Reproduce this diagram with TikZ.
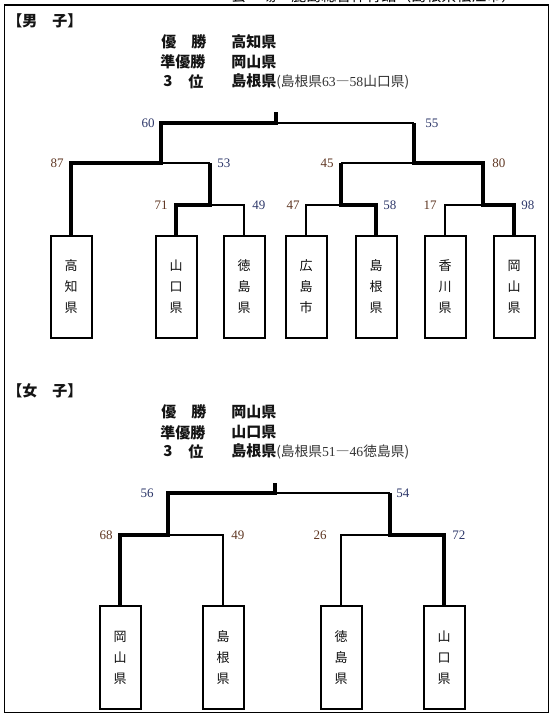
\documentclass[tikz,border=0pt]{standalone}
\usepackage{fontspec}
\setmainfont{Liberation Serif}
\newfontfamily\jp{Noto Sans CJK JP}
\newfontfamily\num{Liberation Serif}
\usetikzlibrary{calc}
\definecolor{numblue}{RGB}{45,55,105}
\definecolor{numbrown}{RGB}{95,55,35}
\newcommand{\paren}[1]{{\mdseries\fontsize{10.3pt}{13pt}\selectfont\color{black!80}#1}}
\tikzset{
  thinln/.style={line width=0.8pt},
  thickln/.style={line width=2.8pt, line join=miter},
  team/.style={draw, line width=1.5pt, minimum width=30.75pt, minimum height=76.5pt,
    inner sep=0pt, align=center, font=\jp\fontsize{9.75pt}{15.75pt}\selectfont, text=black!95},
  score/.style={font=\num\fontsize{9.75pt}{11pt}\selectfont, inner sep=0pt},
  sl/.style={score, anchor=east},
  sr/.style={score, anchor=west},
  head/.style={font=\jp\bfseries\fontsize{11.25pt}{13pt}\selectfont, inner sep=0pt, anchor=west, text=black!92},
  frame/.style={line width=1.1pt}
}
\begin{document}
\begin{tikzpicture}[x=0.75pt, y=-0.75pt]
\useasboundingbox (0,0) rectangle (559,716);
\draw[frame] (4.3,5) rectangle (548.5,712.5);
% venue line, cut off at the top edge as in the reference
\node[font=\jp\fontsize{11.25pt}{13pt}\selectfont, anchor=base west, inner sep=0pt] (venue) at (231,1.5) {会　場　鹿島総合体育館（島根県松江市）};

% ===== Men =====
\node[head] (mT) at (7,20.7) {【男　子】};
\node[head] (m1a) at (161,41.7) {優　勝};
\node[head] (m1b) at (231,41.7) {高知県};
\node[head] (m2a) at (160,62.3) {準優勝};
\node[head] (m2b) at (231,62.3) {岡山県};
\node[head, anchor=center] (m3n) at (168,81.5) {3};
\node[head] (m3a) at (188,81.5) {位};
\node[head] (m3b) at (231,81.5) {島根県\paren{(島根県{\num 63}―{\num 58}山口県)}};

\node[team] (b1) at (71,287) {高\\知\\県};
\node[team] (b2) at (176,287) {山\\口\\県};
\node[team] (b3) at (244,287) {徳\\島\\県};
\node[team] (b4) at (306,287) {広\\島\\市};
\node[team] (b5) at (376,287) {島\\根\\県};
\node[team] (b6) at (445,287) {香\\川\\県};
\node[team] (b7) at (514,287) {岡\\山\\県};

\coordinate (mtop) at (276,112);
\coordinate (mF) at (276,123);
\coordinate (mL) at (161,123);
\coordinate (mR) at (414,123);
\coordinate (mLL) at (71,163);
\coordinate (mLm) at (161,163);
\coordinate (mLR) at (210,163);
\coordinate (mRL) at (341,163);
\coordinate (mRm) at (414,163);
\coordinate (mRR) at (483,163);
\coordinate (mLRa) at (176,205);
\coordinate (mLRm) at (210,205);
\coordinate (mLRb) at (244,205);
\coordinate (mRLa) at (306,205);
\coordinate (mRLm) at (341,205);
\coordinate (mRLb) at (376,205);
\coordinate (mRRa) at (445,205);
\coordinate (mRRm) at (483,205);
\coordinate (mRRb) at (514,205);

\draw[thinln] (mF) -- (mR);
\draw[thinln] (mLm) -- (mLR);
\draw[thinln] (mLRm) -- (mLRb) -- (b3.north);
\draw[thinln] (mRL) -- (mRm);
\draw[thinln] (mRLm) -- (mRLa) -- (b4.north);
\draw[thinln] (mRRm) -- (mRRa) -- (b6.north);
\draw[thickln] (b1.north) -- (mLL) -- (mLm) -- (mL) -- (mF) -- (mtop);
\draw[thickln] (b2.north) -- (mLRa) -- (mLRm) -- (mLR);
\draw[thickln] (b5.north) -- (mRLb) -- (mRLm) -- (mRL);
\draw[thickln] (b7.north) -- (mRRb) -- (mRRm) -- (mRR) -- (mRm) -- (mR);

\node[sl, text=numblue] (s60) at (155,123) {60};
\node[sr, text=numblue] (s55) at (425,123) {55};
\node[sl, text=numbrown] (s87) at (64,163) {87};
\node[sr, text=numblue] (s53) at (217,163) {53};
\node[sl, text=numbrown] (s45) at (334,163) {45};
\node[sr, text=numbrown] (s80) at (492,163) {80};
\node[sl, text=numbrown] (s71) at (168,205) {71};
\node[sr, text=numblue] (s49) at (252,205) {49};
\node[sl, text=numbrown] (s47) at (300,205) {47};
\node[sr, text=numblue] (s58) at (383,205) {58};
\node[sl, text=numbrown] (s17) at (437,205) {17};
\node[sr, text=numblue] (s98) at (521,205) {98};

% ===== Women =====
\node[head] (wT) at (7,390.7) {【女　子】};
\node[head] (w1a) at (161,411.7) {優　勝};
\node[head] (w1b) at (231,411.7) {岡山県};
\node[head] (w2a) at (160,432.3) {準優勝};
\node[head] (w2b) at (231,432.3) {山口県};
\node[head, anchor=center] (w3n) at (168,451.5) {3};
\node[head] (w3a) at (188,451.5) {位};
\node[head] (w3b) at (231,451.5) {島根県\paren{(島根県{\num 51}―{\num 46}徳島県)}};

\node[team, minimum height=77.25pt] (c1) at (120,657.5) {岡\\山\\県};
\node[team, minimum height=77.25pt] (c2) at (223,657.5) {島\\根\\県};
\node[team, minimum height=77.25pt] (c3) at (341,657.5) {徳\\島\\県};
\node[team, minimum height=77.25pt] (c4) at (444,657.5) {山\\口\\県};

\coordinate (wtop) at (275,483);
\coordinate (wF) at (275,493);
\coordinate (wL) at (168,493);
\coordinate (wR) at (390,493);
\coordinate (wLL) at (120,535);
\coordinate (wLm) at (168,535);
\coordinate (wLR) at (223,535);
\coordinate (wRL) at (341,535);
\coordinate (wRm) at (390,535);
\coordinate (wRR) at (444,535);

\draw[thinln] (wF) -- (wR);
\draw[thinln] (wLm) -- (wLR) -- (c2.north);
\draw[thinln] (wRm) -- (wRL) -- (c3.north);
\draw[thickln] (c1.north) -- (wLL) -- (wLm) -- (wL) -- (wF) -- (wtop);
\draw[thickln] (c4.north) -- (wRR) -- (wRm) -- (wR);

\node[sl, text=numblue] (t56) at (154,493) {56};
\node[sr, text=numblue] (t54) at (396,493) {54};
\node[sl, text=numbrown] (t68) at (113,535) {68};
\node[sr, text=numbrown] (t49) at (231,535) {49};
\node[sl, text=numbrown] (t26) at (327,535) {26};
\node[sr, text=numblue] (t72) at (452,535) {72};
\end{tikzpicture}
\end{document}
